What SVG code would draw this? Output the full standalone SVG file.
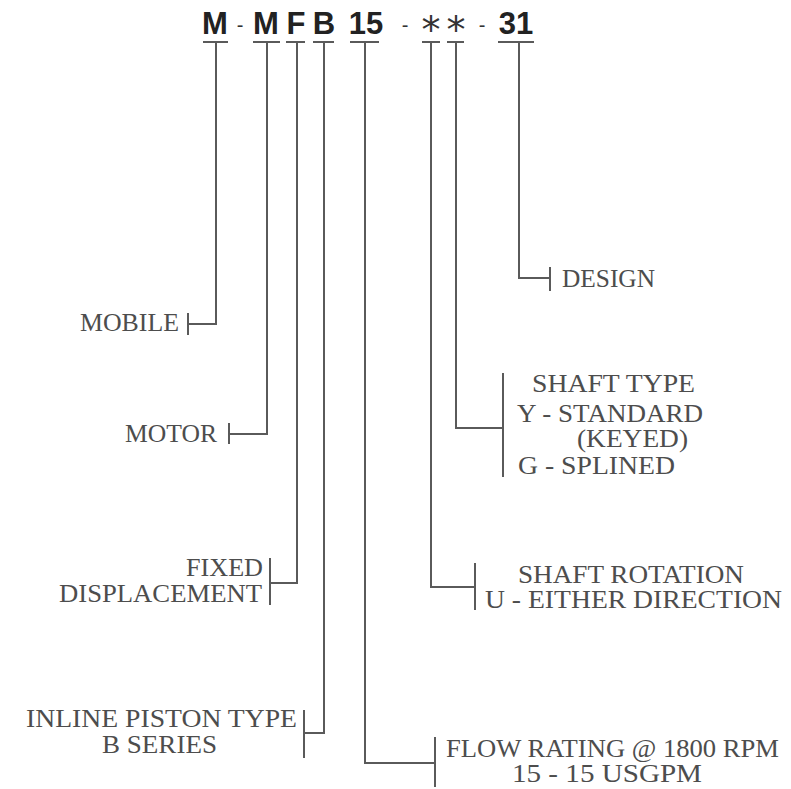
<svg xmlns="http://www.w3.org/2000/svg" width="791" height="789" viewBox="0 0 791 789">
<style>
.hd{font-family:"Liberation Sans",Arial,sans-serif;font-weight:bold;font-size:31px;fill:#222;text-anchor:middle}
.dash{font-family:"Liberation Sans",Arial,sans-serif;font-size:20px;fill:#333;text-anchor:middle}
.ast{font-family:"DejaVu Sans",sans-serif;font-size:38px;fill:#333;text-anchor:middle}
.lb{font-family:"Liberation Serif","Times New Roman",serif;font-size:25px;fill:#4d4d4d}
.ln{stroke:#5a5a5a;stroke-width:2;fill:none}
</style>
<rect width="791" height="789" fill="#fff"/>
<g id="header">
<text class="hd" x="215" y="34">M</text>
<text class="dash" x="240" y="32">-</text>
<text class="hd" x="266" y="34">M</text>
<text class="hd" x="296" y="34">F</text>
<text class="hd" x="324" y="34">B</text>
<text class="hd" x="366" y="34">15</text>
<text class="dash" x="405" y="32">-</text>
<text class="ast" x="431" y="43">*</text>
<text class="ast" x="456" y="43">*</text>
<text class="dash" x="482" y="32">-</text>
<text class="hd" x="516" y="34">31</text>
</g>
<g id="connectors" class="ln">
<path d="M203 42H228M216 42V324H188M188 313V335"/>
<path d="M253 42H280M267 42V434H229M229 423V444"/>
<path d="M286 42H305M297 42V583H270M270 558V605"/>
<path d="M313 42H334M324 42V733H304M304 710V758"/>
<path d="M350 42H379M365 42V763H435M435 737V787"/>
<path d="M422 42H440M431 42V587H475M475 563V610"/>
<path d="M447 42H464M456 42V428H503M503 373V477"/>
<path d="M498 42H534M519 42V278H550M550 267V291"/>
</g>
<g id="mobile"><text class="lb" x="80" y="331" textLength="99" lengthAdjust="spacingAndGlyphs">MOBILE</text></g>
<g id="motor"><text class="lb" x="125" y="442" textLength="92" lengthAdjust="spacingAndGlyphs">MOTOR</text></g>
<g id="fixed">
<text class="lb" x="186" y="576" textLength="77" lengthAdjust="spacingAndGlyphs">FIXED</text>
<text class="lb" x="59" y="602" textLength="203" lengthAdjust="spacingAndGlyphs">DISPLACEMENT</text>
</g>
<g id="inline">
<text class="lb" x="26" y="727" textLength="271" lengthAdjust="spacingAndGlyphs">INLINE PISTON TYPE</text>
<text class="lb" x="102" y="753" textLength="115" lengthAdjust="spacingAndGlyphs">B SERIES</text>
</g>
<g id="flow">
<text class="lb" x="446" y="757" textLength="333" lengthAdjust="spacingAndGlyphs">FLOW RATING @ 1800 RPM</text>
<text class="lb" x="512" y="782" textLength="190" lengthAdjust="spacingAndGlyphs">15 - 15 USGPM</text>
</g>
<g id="design"><text class="lb" x="562" y="287" textLength="93" lengthAdjust="spacingAndGlyphs">DESIGN</text></g>
<g id="shafttype">
<text class="lb" x="532" y="392" textLength="163" lengthAdjust="spacingAndGlyphs">SHAFT TYPE</text>
<text class="lb" x="517" y="422" textLength="186" lengthAdjust="spacingAndGlyphs">Y - STANDARD</text>
<text class="lb" x="577" y="447" textLength="111" lengthAdjust="spacingAndGlyphs">(KEYED)</text>
<text class="lb" x="518" y="474" textLength="157" lengthAdjust="spacingAndGlyphs">G - SPLINED</text>
</g>
<g id="rotation">
<text class="lb" x="518" y="583" textLength="226" lengthAdjust="spacingAndGlyphs">SHAFT ROTATION</text>
<text class="lb" x="485" y="608" textLength="297" lengthAdjust="spacingAndGlyphs">U - EITHER DIRECTION</text>
</g>
</svg>
